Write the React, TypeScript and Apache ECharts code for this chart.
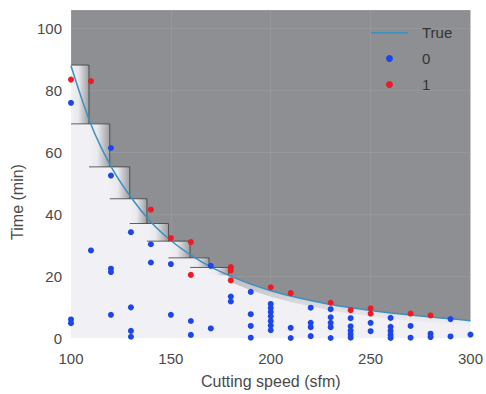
import React, { useEffect, useRef } from "react";
import * as echarts from "echarts";

const FONT = "'Liberation Sans', Arial, sans-serif";

// True curve
const trueX = [100, 110, 120, 130, 140, 150, 160, 170, 180, 190, 200, 210, 220, 230, 240, 250, 260, 270, 280, 290, 300];
const trueT = [88, 69, 55.5, 45.5, 37.5, 31.5, 26.8, 23, 20, 17.4, 15.3, 13.6, 12.1, 10.8, 9.8, 8.9, 8.1, 7.4, 6.8, 6.2, 5.6];

// Step boundary of the shaded (predicted) region
const stepEdges = [100, 109, 119.4, 129.4, 138, 148.8, 159.6, 169.1, 178.8];
const stepLevels = [88.2, 69.2, 55.3, 45, 37, 31.3, 25.9, 22.8];
const smoothX = [178.8, 190, 200, 210, 220, 230, 240, 250, 260, 270, 280, 290, 300];
const smoothY = [20.3, 17.4, 15.3, 13.6, 12.1, 10.8, 9.8, 8.9, 8.1, 7.4, 6.8, 6.2, 5.6];

// class 0 (blue) points
const class0 = [
  [100, 76], [100, 6], [100, 4.8],
  [110, 28.3],
  [120, 61.4], [120, 52.5], [120, 22.4], [120, 21.3], [120, 7.5],
  [130, 34.2], [130, 9.9], [130, 2.3], [130, 0.4],
  [140, 30.3], [140, 24.4],
  [150, 23.9], [150, 7.5],
  [160, 5.5], [160, 1.0],
  [170, 23.3], [170, 3.1],
  [180, 13.4], [180, 11.8],
  [190, 14.9], [190, 7.7], [190, 3.9], [190, 0.1],
  [200, 11], [200, 9.7], [200, 8.4], [200, 7], [200, 5.5], [200, 4], [200, 2.5],
  [210, 3.3], [210, 0],
  [220, 9.8], [220, 4.9], [220, 3.5], [220, 0.6],
  [230, 9.3], [230, 6.7], [230, 4.9], [230, 3.5], [230, 0],
  [240, 6.4], [240, 3.8], [240, 2.4], [240, 1.2], [240, 0.1],
  [250, 4.9], [250, 2.2],
  [260, 6.5], [260, 3.6], [260, 2.3], [260, 1.0], [260, 0],
  [270, 3.9], [270, 0.1],
  [280, 1.4], [280, 0.3],
  [290, 6.1], [290, 0.5],
  [300, 1.1],
];

// class 1 (red) points
const class1 = [
  [100, 83.5], [110, 83], [140, 41.5], [150, 32.3], [160, 31], [160, 20.4],
  [180, 22.9], [180, 21.8], [180, 18.6], [200, 16.4], [210, 14.5], [230, 11.4],
  [240, 9], [250, 9.6], [250, 7.9], [270, 7.9], [280, 7.3],
];

const xTicks = { min: 100, max: 300, interval: 50 };
const yTicks = { min: 0, max: 106, interval: 20 };

const GRAY = "#8e8f93";
const LINE_ICON = "path://M0,0L37,0L37,0.01Z M0,3L37,3L37,4.6L0,4.6Z M0,7L37,7L37,7.01Z";

export default function App() {
  const ref = useRef<HTMLDivElement>(null);
  useEffect(() => {
    if (!ref.current) return;
    const chart = echarts.init(ref.current, null, { renderer: "svg" });

    const renderShade = (params: any, api: any) => {
      const cs = params.coordSys;
      const top = cs.y;
      const children: any[] = [];
      const pts: number[][] = [];
      pts.push([cs.x, top]);
      for (let i = 0; i < stepLevels.length; i++) {
        pts.push(api.coord([stepEdges[i], stepLevels[i]]));
        pts.push(api.coord([stepEdges[i + 1], stepLevels[i]]));
      }
      for (let j = 0; j < smoothX.length; j++) pts.push(api.coord([smoothX[j], smoothY[j]]));
      pts.push([cs.x + cs.width, top]);
      children.push({ type: "polygon", shape: { points: pts }, style: { fill: GRAY } });

      // soft band below the smooth part
      const band: number[][] = [];
      for (let j = 0; j < smoothX.length; j++) band.push(api.coord([smoothX[j], smoothY[j]]));
      for (let j = smoothX.length - 1; j >= 0; j--) {
        const p = api.coord([smoothX[j], smoothY[j]]);
        band.push([p[0], p[1] + 6]);
      }
      children.push({
        type: "polygon",
        shape: { points: band },
        style: {
          fill: new echarts.graphic.LinearGradient(0, 0, 0, 1, [
            { offset: 0, color: "rgba(142,143,147,0.55)" },
            { offset: 1, color: "rgba(142,143,147,0)" },
          ]),
        },
      });

      // gradient cells and outlines of the staircase
      for (let i = 0; i < stepLevels.length; i++) {
        const next = i + 1 < stepLevels.length ? stepLevels[i + 1] : smoothY[0];
        const a = api.coord([stepEdges[i], stepLevels[i]]);
        const b = api.coord([stepEdges[i + 1], next]);
        children.push({
          type: "rect",
          shape: { x: a[0], y: a[1], width: b[0] - a[0], height: b[1] - a[1] },
          style: {
            fill: new echarts.graphic.LinearGradient(0, 0, 1, 0, [
              { offset: 0, color: "rgba(142,143,147,0)" },
              { offset: 0.4, color: "rgba(142,143,147,0.08)" },
              { offset: 1, color: "rgba(142,143,147,0.85)" },
            ]),
          },
        });
        const leftX = i > 0 ? stepEdges[i - 1] : stepEdges[0];
        const tl = api.coord([leftX, stepLevels[i]]);
        const tr = api.coord([stepEdges[i + 1], stepLevels[i]]);
        const br = api.coord([stepEdges[i + 1], next]);
        children.push({
          type: "polyline",
          shape: { points: [tl, tr, br] },
          style: { stroke: "rgba(50,50,50,0.75)", lineWidth: 1, fill: null },
        });
      }
      return { type: "group", children };
    };

    chart.setOption({
      animation: false,
      grid: {
        left: 71, right: 13, top: 10, bottom: 49,
        show: true, backgroundColor: "#f0f0f5", borderWidth: 0,
      },
      legend: {
        left: 366, top: 20, orient: "vertical",
        itemWidth: 37, itemHeight: 7, itemGap: 11,
        textStyle: { fontSize: 15, color: "#333", fontFamily: FONT, padding: [0, 0, 0, 9] },
        data: [{ name: "True", icon: LINE_ICON }, { name: "0" }, { name: "1" }],
      },
      xAxis: {
        type: "value", min: xTicks.min, max: xTicks.max, interval: xTicks.interval, z: 3,
        name: "Cutting speed (sfm)", nameLocation: "middle", nameGap: 35,
        nameTextStyle: { fontSize: 16, color: "#4a4a4a", fontFamily: FONT },
        axisLine: { show: false }, axisTick: { show: false },
        axisLabel: { fontSize: 15, color: "#4a4a4a", fontFamily: FONT, margin: 13 },
        splitLine: { show: true, lineStyle: { color: "rgba(255,255,255,0.08)", width: 1 } },
      },
      yAxis: {
        type: "value", min: yTicks.min, max: yTicks.max, interval: yTicks.interval, z: 3,
        name: "Time (min)", nameLocation: "middle", nameGap: 46,
        nameTextStyle: { fontSize: 16, color: "#4a4a4a", fontFamily: FONT, padding: [0, 56, 0, 0] },
        axisLine: { show: false }, axisTick: { show: false },
        axisLabel: {
          fontSize: 15, color: "#4a4a4a", fontFamily: FONT, margin: 9, showMaxLabel: false,
          formatter: (v: number) => (v % 20 === 0 ? String(v) : ""),
        },
        splitLine: { show: true, lineStyle: { color: "rgba(255,255,255,0.08)", width: 1 } },
      },
      series: [
        {
          type: "custom", name: "shade", z: 1, silent: true,
          renderItem: renderShade, data: [[0]], clip: true,
        },
        {
          type: "line", name: "True", z: 4, symbol: "none", smooth: 0.3,
          lineStyle: { color: "#3d8fbe", width: 1.5 }, itemStyle: { color: "#3d8fbe" },
          data: trueX.map((x, i) => [x, trueT[i]]),
        },
        {
          type: "scatter", name: "0", z: 5, symbolSize: 6,
          itemStyle: { color: "#1c46ec", opacity: 1 },
          data: class0, clip: true,
        },
        {
          type: "scatter", name: "1", z: 5, symbolSize: 6,
          itemStyle: { color: "#ee1a26", opacity: 1 },
          data: class1, clip: true,
        },
      ],
    });
    return () => chart.dispose();
  }, []);
  return <div ref={ref} style={{ position: "absolute", left: 0, top: 0, width: 486, height: 394 }} />;
}
